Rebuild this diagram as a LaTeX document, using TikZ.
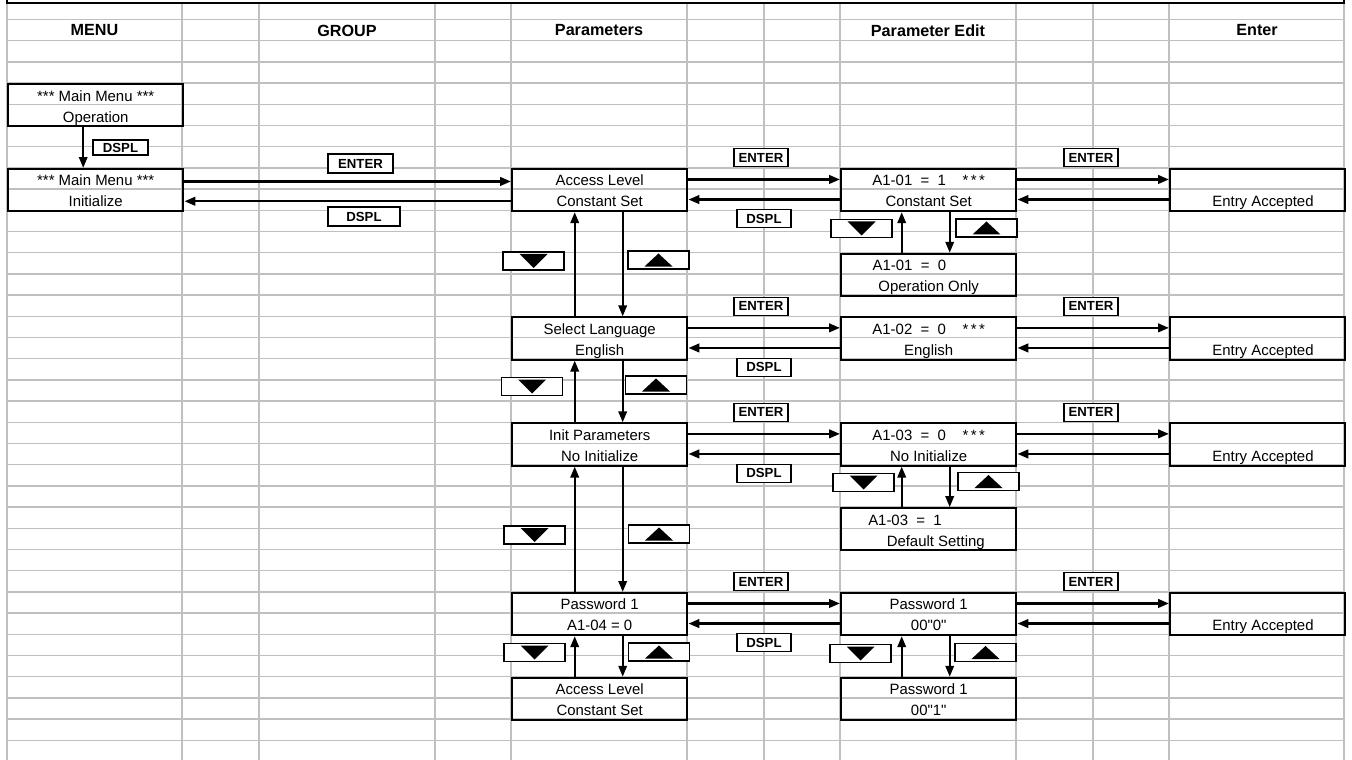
\documentclass[tikz,border=0pt]{standalone}
\usepackage{fontspec}
\setmainfont{Liberation Sans}
\usetikzlibrary{arrows.meta}

\definecolor{gridgray}{RGB}{192,192,192}
\newcommand{\sq}{{\XeTeXglyph\XeTeXcharglyph"22\relax}}
\newcommand{\twoline}[2]{\rule{0pt}{9.4pt}#1\\#2\rule[-2.2pt]{0pt}{2.2pt}}

\begin{document}
\begin{tikzpicture}[x=0.02cm,y=-0.02cm,>={Triangle[length=6.2pt,width=4.8pt]},
                    font=\fontsize{8.5}{12}\selectfont]

  \tikzstyle{gridline} = [draw=gridgray,line width=0.7pt]
  \tikzstyle{screen}   = [draw,line width=1.1pt,anchor=north west,inner sep=0pt,
                          minimum width=3.51cm,minimum height=0.848cm,align=center]
  \tikzstyle{key}      = [draw,fill=white,line width=0.6pt,inner sep=0pt,
                          minimum width=1.08cm,minimum height=0.36cm,
                          font=\bfseries\fontsize{7.5}{9}\selectfont]
  \tikzstyle{btn}      = [draw,fill=white,line width=0.6pt,inner sep=0pt,
                          minimum width=1.22cm,minimum height=0.36cm]
  \tikzstyle{head}     = [font=\bfseries\fontsize{9.2}{11}\selectfont]
  \tikzstyle{hop}      = [->,line width=1.4pt]
  \tikzstyle{move}     = [->,line width=1.15pt]

  \useasboundingbox (0,0) rectangle (1352,760);

  % sheet grid
  \foreach \x in {7,182,259,435,511,687,764,840,1016,1093,1169,1344}
    \draw[gridline] (\x,3) -- (\x,760);
  \foreach \k in {0,...,34}
    \draw[gridline] (7,{19.5+21.2*\k}) -- (1344,{19.5+21.2*\k});
  \draw[line width=0.6pt] (7,0) -- (7,3) -- (1344,3) -- (1344,0);

  % column titles
  \node[head] (hM) at (94.5,30.5) {MENU};
  \node[head] (hG) at (347,30.5)  {GROUP};
  \node[head] (hP) at (599,30.5)  {Parameters};
  \node[head] (hE) at (928,30.5)  {Parameter Edit};
  \node[head] (hN) at (1257,30.5) {Enter};

  % screens
  \node[screen] (M1) at (7,83.1)    {\twoline{*** Main Menu ***}{Operation}};
  \node[screen] (M2) at (7,167.9)   {\twoline{*** Main Menu ***}{Initialize}};
  \node[screen] (P1) at (511,167.9) {\twoline{Access Level}{Constant Set}};
  \node[screen] (P2) at (511,316.3) {\twoline{Select Language}{English}};
  \node[screen] (P3) at (511,422.3) {\twoline{Init Parameters}{No Initialize}};
  \node[screen] (P4) at (511,591.9) {\twoline{Password 1}{A1-04 = 0}};
  \node[screen] (P5) at (511,676.7) {\twoline{Access Level}{Constant Set}};
  \node[screen] (E1) at (840,167.9) {\twoline{A1-01~~=~~1~~~~*\,*\,*}{Constant Set}};
  \node[screen] (F1) at (840,252.7) {\twoline{A1-01~~=~~0\hspace*{22pt}}{Operation Only}};
  \node[screen] (E2) at (840,316.3) {\twoline{A1-02~~=~~0~~~~*\,*\,*}{English}};
  \node[screen] (E3) at (840,422.3) {\twoline{A1-03~~=~~0~~~~*\,*\,*}{No Initialize}};
  \node[screen] (F3) at (840,507.1) {\twoline{A1-03~~=~~1\hspace*{27pt}}{\hspace*{8pt}Default Setting}};
  \node[screen] (E4) at (840,591.9) {\twoline{Password 1}{00\sq0\sq}};
  \node[screen] (F4) at (840,676.7) {\twoline{Password 1}{00\sq1\sq}};
  \node[screen] (N1) at (1169,167.9) {\twoline{}{\hspace*{6pt}Entry Accepted}};
  \node[screen] (N2) at (1169,316.3) {\twoline{}{\hspace*{6pt}Entry Accepted}};
  \node[screen] (N3) at (1169,422.3) {\twoline{}{\hspace*{6pt}Entry Accepted}};
  \node[screen] (N4) at (1169,591.9) {\twoline{}{\hspace*{6pt}Entry Accepted}};

  % enter / display moves
  \path[hop] ([yshift=1.72mm]M2.east) edge ([yshift=1.72mm]P1.west)
             ([yshift=-2.24mm]P1.west) edge ([yshift=-2.24mm]M2.east)
             ([yshift=2.12mm]P1.east) edge ([yshift=2.12mm]E1.west)
             ([yshift=-1.9mm]E1.west) edge ([yshift=-1.9mm]P1.east)
             ([yshift=2.12mm]E1.east) edge ([yshift=2.12mm]N1.west)
             ([yshift=-1.9mm]N1.west) edge ([yshift=-1.9mm]E1.east)
             ([yshift=2.12mm]P2.east) edge ([yshift=2.12mm]E2.west)
             ([yshift=-1.9mm]E2.west) edge ([yshift=-1.9mm]P2.east)
             ([yshift=2.12mm]E2.east) edge ([yshift=2.12mm]N2.west)
             ([yshift=-1.9mm]N2.west) edge ([yshift=-1.9mm]E2.east)
             ([yshift=2.12mm]P3.east) edge ([yshift=2.12mm]E3.west)
             ([yshift=-1.9mm]E3.west) edge ([yshift=-1.9mm]P3.east)
             ([yshift=2.12mm]E3.east) edge ([yshift=2.12mm]N3.west)
             ([yshift=-1.9mm]N3.west) edge ([yshift=-1.9mm]E3.east)
             ([yshift=2.12mm]P4.east) edge ([yshift=2.12mm]E4.west)
             ([yshift=-1.9mm]E4.west) edge ([yshift=-1.9mm]P4.east)
             ([yshift=2.12mm]E4.east) edge ([yshift=2.12mm]N4.west)
             ([yshift=-1.9mm]N4.west) edge ([yshift=-1.9mm]E4.east);

  % up / down moves
  \path[move] ([xshift=-2.5mm]M1.south) edge ([xshift=-2.5mm]M2.north)
              ([xshift=-5mm]P2.north) edge ([xshift=-5mm]P1.south)
              ([xshift=4.6mm]P1.south) edge ([xshift=4.6mm]P2.north)
              ([xshift=-5mm]P3.north) edge ([xshift=-5mm]P2.south)
              ([xshift=4.6mm]P2.south) edge ([xshift=4.6mm]P3.north)
              ([xshift=-5mm]P4.north) edge ([xshift=-5mm]P3.south)
              ([xshift=4.6mm]P3.south) edge ([xshift=4.6mm]P4.north)
              ([xshift=-5mm]P5.north) edge ([xshift=-5mm]P4.south)
              ([xshift=4.6mm]P4.south) edge ([xshift=4.6mm]P5.north)
              ([xshift=-5.4mm]F1.north) edge ([xshift=-5.4mm]E1.south)
              ([xshift=4.2mm]E1.south) edge ([xshift=4.2mm]F1.north)
              ([xshift=-5.4mm]F3.north) edge ([xshift=-5.4mm]E3.south)
              ([xshift=4.2mm]E3.south) edge ([xshift=4.2mm]F3.north)
              ([xshift=-5.4mm]F4.north) edge ([xshift=-5.4mm]E4.south)
              ([xshift=4.2mm]E4.south) edge ([xshift=4.2mm]F4.north);

  % key labels
  \node[key,minimum width=1.1cm,minimum height=0.3cm] (k0) at (120.5,147.5) {DSPL};
  \node[key,minimum width=1.3cm,minimum height=0.38cm] (k1) at (360.5,163.5) {ENTER};
  \node[key,minimum width=1.44cm,minimum height=0.38cm] (k2) at (364,216.5) {DSPL};
  \node[key] (e1) at (761,157.9)  {ENTER};
  \node[key] (e2) at (761,306.3)  {ENTER};
  \node[key] (e3) at (761,412.3)  {ENTER};
  \node[key] (e4) at (761,581.9)  {ENTER};
  \node[key] (s1) at (764,218.8)  {DSPL};
  \node[key] (s2) at (764,367.2)  {DSPL};
  \node[key] (s3) at (764,473.2)  {DSPL};
  \node[key] (s4) at (764,642.8)  {DSPL};
  \node[key] (a1) at (1091,157.9) {ENTER};
  \node[key] (a2) at (1091,306.3) {ENTER};
  \node[key] (a3) at (1091,412.3) {ENTER};
  \node[key] (a4) at (1091,581.9) {ENTER};

  % arrow buttons
  \node[btn] (d1) at (533.5,261)   {};
  \node[btn] (u1) at (658.5,260)   {};
  \node[btn] (d2) at (861.5,228.5) {};
  \node[btn] (u2) at (986.5,228)   {};
  \node[btn] (d3) at (532,386.5)   {};
  \node[btn] (u3) at (656,385)     {};
  \node[btn] (d4) at (863.5,482.5) {};
  \node[btn] (u4) at (988.5,481.5) {};
  \node[btn] (d5) at (534.5,535)   {};
  \node[btn] (u5) at (659,534)     {};
  \node[btn] (d6) at (534.5,652.5) {};
  \node[btn] (u6) at (659,652)     {};
  \node[btn] (d7) at (860.5,653.5) {};
  \node[btn] (u7) at (985.5,652.5) {};
  \foreach \b in {d1,d2,d3,d4,d5,d6,d7}
    \fill (\b.center) +(-14,-7) -- +(14,-7) -- +(0,7) -- cycle;
  \foreach \b in {u1,u2,u3,u4,u5,u6,u7}
    \fill (\b.center) +(-14,6.5) -- +(14,6.5) -- +(0,-6.5) -- cycle;

\end{tikzpicture}
\end{document}
